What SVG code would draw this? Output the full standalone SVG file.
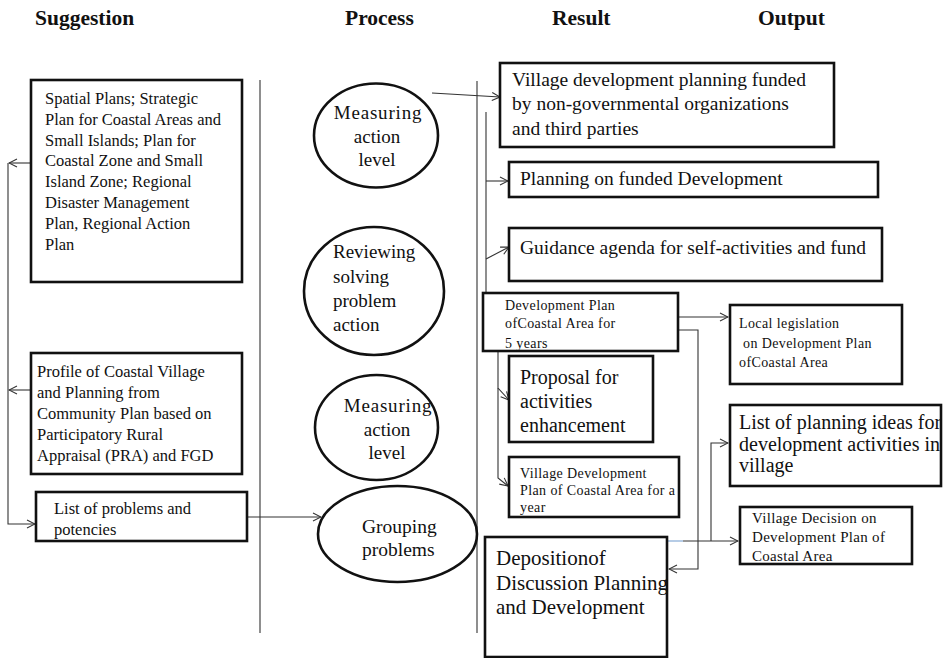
<svg xmlns="http://www.w3.org/2000/svg" width="946" height="658" viewBox="0 0 946 658">
<defs>
<style>
text{font-family:"Liberation Serif","Times New Roman",serif;fill:#111}
.h{font-size:21.5px;font-weight:bold}
.box{fill:#fff;stroke:#111;stroke-width:2.6}
.ell{fill:#fff;stroke:#111;stroke-width:2.6}
.ln{fill:none;stroke:#333;stroke-width:1.1}
.div{fill:none;stroke:#444;stroke-width:1.2}
.t16{font-size:16.5px}
.t14{font-size:14px;letter-spacing:0.4px}
.t15{font-size:15px;letter-spacing:0.3px}
.t19{font-size:19.5px}
.t20{font-size:20px}
.e{font-size:19px;text-anchor:middle}
</style>
<marker id="arr" markerWidth="10" markerHeight="10" refX="9" refY="5" orient="auto" markerUnits="userSpaceOnUse">
<path d="M1,1 L9,5 L1,9" fill="none" stroke="#333" stroke-width="1.1"/>
</marker>
</defs>
<rect width="946" height="658" fill="#fff"/>

<g id="headers">
<text class="h" x="35" y="25">Suggestion</text>
<text class="h" x="345" y="25">Process</text>
<text class="h" x="552" y="25">Result</text>
<text class="h" x="758" y="25">Output</text>
</g>

<g id="dividers">
<line class="div" x1="260" y1="80" x2="260" y2="633"/>
<line class="div" x1="477" y1="81" x2="477" y2="633"/>
</g>

<g id="connectors">
<path class="ln" d="M31,163 H9" marker-end="url(#arr)"/>
<path class="ln" d="M31,390 H9" marker-end="url(#arr)"/>
<path class="ln" d="M8,163 V524 H35" marker-end="url(#arr)"/>
<path class="ln" d="M247,517 H321" marker-end="url(#arr)"/>
<path class="ln" d="M432,93 L500,97" marker-end="url(#arr)"/>
<path class="ln" d="M486,112 V343 H508" marker-end="url(#arr)"/>
<path class="ln" d="M486,181 H508" marker-end="url(#arr)"/>
<path class="ln" d="M486,259 L509,247" marker-end="url(#arr)"/>
<path class="ln" d="M498,343 V388 L509,400" marker-end="url(#arr)"/>
<path class="ln" d="M498,388 V478 L508,486" marker-end="url(#arr)"/>
<path class="ln" d="M645,317 H728" marker-end="url(#arr)"/>
<path class="ln" d="M645,330 H698 V569 H669" marker-end="url(#arr)"/>
<path class="ln" d="M683,541 H738" marker-end="url(#arr)"/>
<path d="M668,541 H683" fill="none" stroke="#8fb0d8" stroke-width="1.3"/>
<path class="ln" d="M711,541 V443 H728" marker-end="url(#arr)"/>
</g>

<g id="n-spatial">
<rect class="box" x="31" y="80" width="211" height="202"/>
<text class="t16" x="45" y="104">Spatial Plans; Strategic</text>
<text class="t16" x="45" y="125">Plan for Coastal Areas and</text>
<text class="t16" x="45" y="146">Small Islands; Plan for</text>
<text class="t16" x="45" y="166">Coastal Zone and Small</text>
<text class="t16" x="45" y="187">Island Zone; Regional</text>
<text class="t16" x="45" y="208">Disaster Management</text>
<text class="t16" x="45" y="229">Plan, Regional Action</text>
<text class="t16" x="45" y="250">Plan</text>
</g>

<g id="n-profile">
<rect class="box" x="31" y="353" width="211" height="121"/>
<text class="t16" x="37" y="377">Profile of Coastal  Village</text>
<text class="t16" x="37" y="398">and Planning from</text>
<text class="t16" x="37" y="419">Community Plan based on</text>
<text class="t16" x="37" y="440">Participatory Rural</text>
<text class="t16" x="37" y="461">Appraisal (PRA) and FGD</text>
</g>

<g id="n-list">
<rect class="box" x="36" y="492" width="211" height="49"/>
<text class="t16" x="54" y="514">List of problems and</text>
<text class="t16" x="54" y="535">potencies</text>
</g>

<g id="n-measure1">
<ellipse class="ell" cx="376" cy="135.5" rx="62" ry="52"/>
<text class="e" x="378" y="119" letter-spacing="0.8">Measuring</text>
<text class="e" x="377" y="143">action</text>
<text class="e" x="377" y="166">level</text>
</g>

<g id="n-review">
<ellipse class="ell" cx="374" cy="291" rx="70" ry="64"/>
<text x="333" y="258" font-size="19px">Reviewing</text>
<text x="333" y="283" font-size="19px">solving</text>
<text x="333" y="307" font-size="19px">problem</text>
<text x="333" y="331" font-size="19px">action</text>
</g>

<g id="n-measure2">
<ellipse class="ell" cx="376.5" cy="427.5" rx="61.5" ry="52.5"/>
<text class="e" x="388" y="412" letter-spacing="0.8">Measuring</text>
<text class="e" x="387" y="436">action</text>
<text class="e" x="387" y="459">level</text>
</g>

<g id="n-grouping">
<ellipse class="ell" cx="397.5" cy="534" rx="79.5" ry="48"/>
<text x="362" y="533" font-size="19.5px">Grouping</text>
<text x="362" y="556" font-size="19.5px">problems</text>
</g>

<g id="n-village-ngo">
<rect class="box" x="500" y="63" width="334" height="84"/>
<text class="t19" x="512" y="86">Village development planning funded</text>
<text class="t19" x="512" y="110">by non-governmental organizations</text>
<text class="t19" x="512" y="135">and third parties</text>
</g>

<g id="n-funded">
<rect class="box" x="509" y="162" width="369" height="35"/>
<text class="t19" x="520" y="185">Planning on funded Development</text>
</g>

<g id="n-guidance">
<rect class="box" x="509" y="228" width="373" height="53"/>
<text class="t19" x="520" y="254">Guidance agenda for self-activities and fund</text>
</g>

<g id="n-devplan5">
<rect class="box" x="483" y="293" width="195" height="58"/>
<text class="t14" x="505" y="310">Development Plan</text>
<text class="t14" x="505" y="328">ofCoastal Area  for</text>
<text class="t14" x="505" y="348">5 years</text>
</g>

<g id="n-local">
<rect class="box" x="730" y="305" width="172" height="79"/>
<text class="t14" x="739" y="328">Local legislation</text>
<text class="t14" x="743" y="348">on Development Plan</text>
<text class="t14" x="739" y="367">ofCoastal Area</text>
</g>

<g id="n-proposal">
<rect class="box" x="509" y="356" width="144" height="86"/>
<text class="t20" x="520" y="384">Proposal for</text>
<text class="t20" x="520" y="408">activities</text>
<text class="t20" x="520" y="432">enhancement</text>
</g>

<g id="n-villageyear">
<rect class="box" x="509" y="457" width="170" height="60"/>
<text class="t14" x="520" y="478">Village  Development</text>
<text class="t14" x="520" y="495">Plan of Coastal Area for  a</text>
<text class="t14" x="520" y="512">year</text>
</g>

<g id="n-ideas">
<rect class="box" x="730" y="405" width="211" height="81"/>
<text class="t20" x="739" y="429" font-size="20.5px">List of planning ideas for</text>
<text class="t20" x="739" y="451" font-size="20.5px">development activities in</text>
<text class="t20" x="739" y="472" font-size="20.5px">village</text>
</g>

<g id="n-decision">
<rect class="box" x="740" y="507" width="172" height="57"/>
<text class="t15" x="752" y="523">Village Decision on</text>
<text class="t15" x="752" y="542">Development Plan of</text>
<text class="t15" x="752" y="561">Coastal Area</text>
</g>

<g id="n-deposition">
<rect class="box" x="485" y="537" width="182" height="120"/>
<text x="496" y="565" font-size="21px">Depositionof</text>
<text x="496" y="590" font-size="21px">Discussion Planning</text>
<text x="496" y="614" font-size="21px">and Development</text>
</g>
</svg>
